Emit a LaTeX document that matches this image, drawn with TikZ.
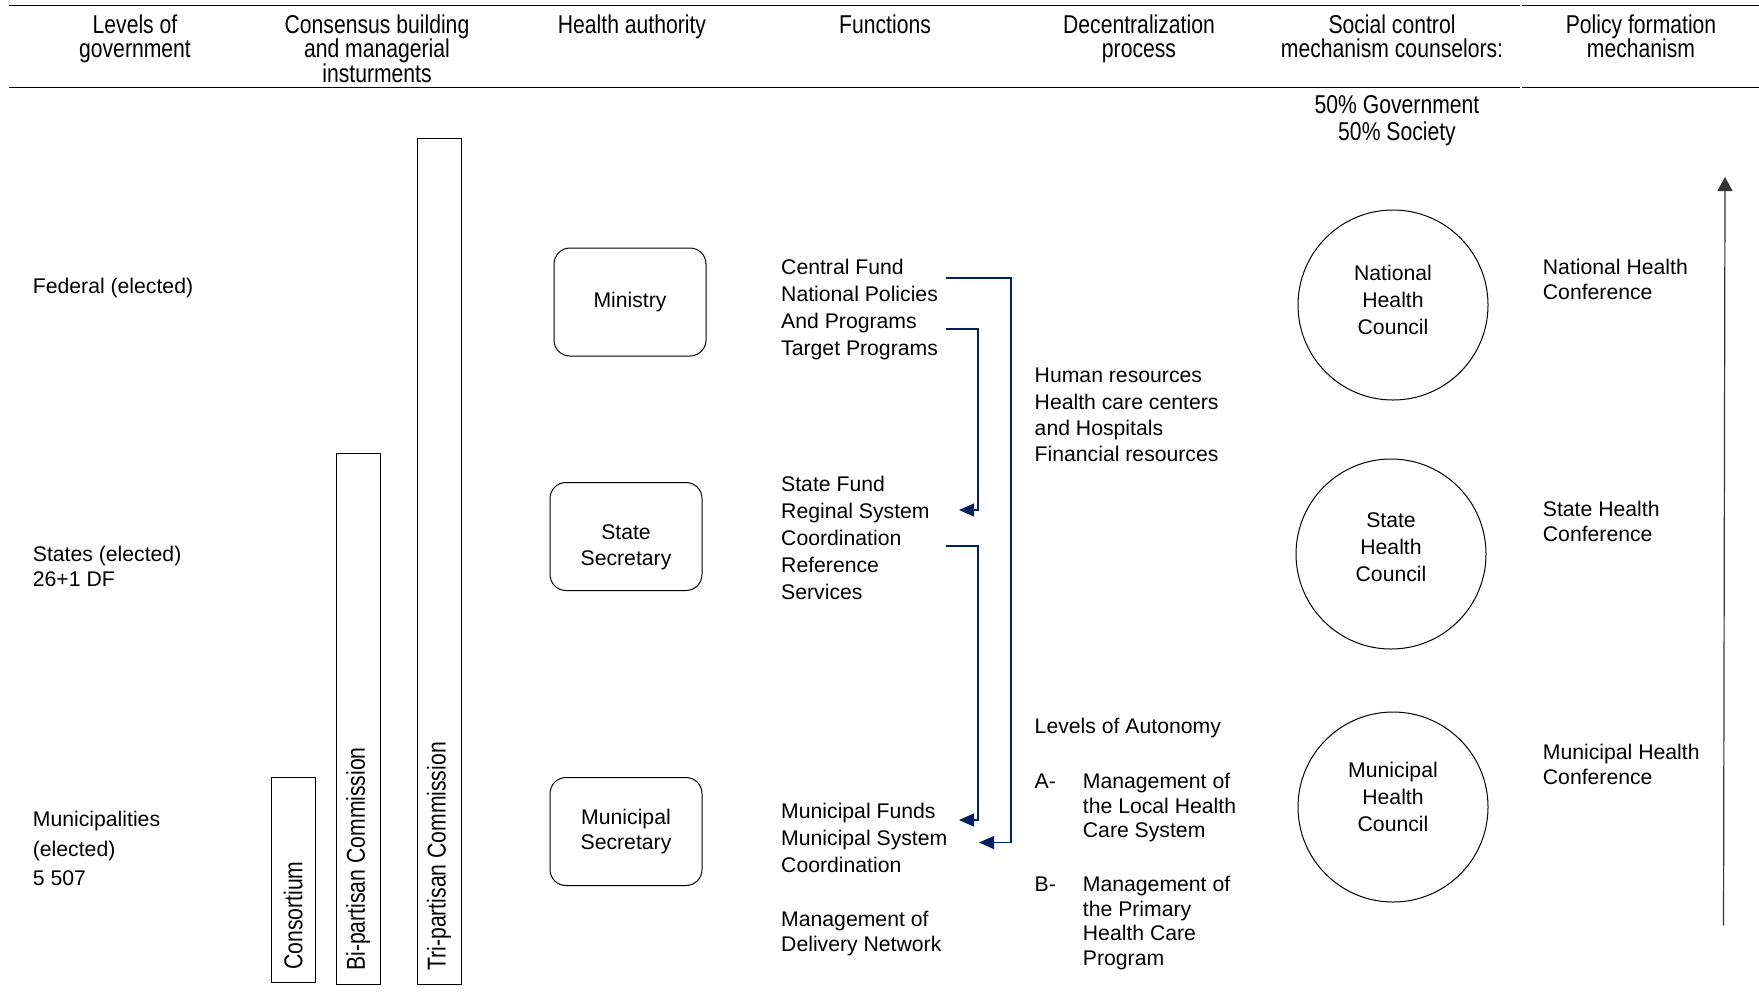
\documentclass[tikz,border=0pt]{standalone}
\usepackage{fontspec}
\setmainfont{Liberation Sans}
\newfontfamily\narrowfont[FakeStretch=0.82]{Liberation Sans}
\usepackage{tikz}
\usetikzlibrary{arrows.meta, positioning, shapes.geometric}
\definecolor{navy}{RGB}{0,32,96}

\begin{document}
\begin{tikzpicture}[x=0.5pt, y=-0.5pt,
    txt/.style={font=\fontsize{10.6}{#1}\selectfont, align=left, anchor=base west, inner sep=0pt},
    txt/.default=13.5pt,
    hdr/.style={font=\narrowfont\fontsize{12.9}{12.3}\selectfont, align=center, anchor=base, inner sep=0pt},
    authority/.style={draw, line width=0.5pt, rounded corners=8pt, minimum width=76pt, minimum height=54pt, align=center, font=\fontsize{10.6}{12.9}\selectfont},
    council/.style={draw, line width=0.5pt, circle, minimum size=95pt, align=center, inner sep=0pt, font=\fontsize{10.6}{13.5}\selectfont},
    bar/.style={draw, line width=0.5pt},
    barlbl/.style={rotate=90, anchor=west, inner sep=0pt, font=\narrowfont\fontsize{12.9}{12.9}\selectfont},
    conn/.style={navy, line width=0.6pt, -{Triangle[length=7.5pt, width=6.5pt]}},
  ]
    \useasboundingbox (0,0) rectangle (1759,993);

    % Header (base = last line)
    \draw[line width=0.7pt] (9,5.6) -- (1520,5.6) (1522,5.6) -- (1759,5.6);
    \draw[line width=0.7pt] (9,87.5) -- (1520,87.5) (1522,87.5) -- (1759,87.5);
    \node[hdr] (hlev) at (135,57.6) {Levels of\\government};
    \node[hdr] (hcons) at (377,82.2) {Consensus building\\and managerial\\insturments};
    \node[hdr] (hauth) at (632,33) {Health authority};
    \node[hdr] (hfunc) at (885,33) {Functions};
    \node[hdr] (hdec) at (1139,57.6) {Decentralization\\process};
    \node[hdr] (hsoc) at (1392,57.6) {Social control\\mechanism counselors:};
    \node[hdr] (hpol) at (1641,57.6) {Policy formation\\mechanism};
    \node[hdr, font=\narrowfont\fontsize{12.9}{13.5}\selectfont] (share) at (1397,140) {50\% Government\\50\% Society};

    % Levels of government
    \node[txt] (fed) at (32.5,293.6) {Federal (elected)};
    \node[txt=12.5pt] (sta) at (32.5,586.6) {States (elected)\\26+1 DF};
    \node[txt=14.7pt] (mun) at (32.5,885.4) {Municipalities\\(elected)\\5 507};

    % Consensus building instruments
    \draw[bar] (271.5,777) rectangle (315,982);
    \node[barlbl] (consort) at (293.2,970) {Consortium};
    \draw[bar] (336.5,453) rectangle (380,984);
    \node[barlbl] (bipart) at (358.2,971) {Bi-partisan Commission};
    \draw[bar] (417,138) rectangle (461,984);
    \node[barlbl] (tripart) at (439,971) {Tri-partisan Commission};

    % Health authority
    \node[authority] (ministry) at (630,302) {Ministry};
    \node[authority, text height=31pt] (stsec) at (626,536.5) {State\\Secretary};
    \node[authority] (musec) at (626,831.5) {Municipal\\Secretary};

    % Functions
    \node[txt] (ffed) at (780.8,355.6) {Central Fund\\National Policies\\And Programs\\Target Programs};
    \node[txt] (fsta) at (780.8,599) {State Fund\\Reginal System\\Coordination\\Reference\\Services};
    \node[txt] (fmun) at (780.8,872.6) {Municipal Funds\\Municipal System\\Coordination};
    \node[txt=12.3pt] (fnet) at (780.8,951.2) {Management of\\Delivery Network};

    % Transfers
    \coordinate (c1s) at (946,278);
    \coordinate (c1e) at (979,842.5);
    \coordinate (c2s) at (946,329);
    \coordinate (c2e) at (959,510);
    \coordinate (c3s) at (946,546);
    \coordinate (c3e) at (959,820);
    \draw[conn] (c1s) -- (1011,278) |- (c1e);
    \draw[conn] (c2s) -- (978,329) |- (c2e);
    \draw[conn] (c3s) -- (978,546) |- (c3e);

    % Decentralization process
    \node[txt=13.2pt] (res) at (1034.3,461.8) {Human resources\\Health care centers\\and Hospitals\\Financial resources};
    \node[txt] (auton) at (1034.3,733.6) {Levels of Autonomy};
    \node[txt] (auta) at (1034.3,788.6) {A-};
    \node[txt=12.25pt] (autatxt) at (1082.5,837.6) {Management of\\the Local Health\\Care System};
    \node[txt] (autb) at (1034.3,891.6) {B-};
    \node[txt=12.25pt] (autbtxt) at (1082.5,965.1) {Management of\\the Primary\\Health Care\\Program};

    % Social control councils
    \node[council, text depth=5pt] (natc) at (1393,305) {National\\Health\\Council};
    \node[council, text depth=6.8pt] (stac) at (1391,554) {State\\Health\\Council};
    \node[council, text depth=10pt] (munc) at (1393,807) {Municipal\\Health\\Council};

    % Policy formation
    \node[txt=12.3pt] (natconf) at (1542.5,299.2) {National Health\\Conference};
    \node[txt=12.3pt] (staconf) at (1542.5,541.2) {State Health\\Conference};
    \node[txt=12.3pt] (munconf) at (1542.5,784.2) {Municipal Health\\Conference};
    \coordinate (pbot) at (1723.5,925.5);
    \coordinate (ptop) at (1725,177);
    \draw[black!80, line width=0.6pt, -{Triangle[length=7pt, width=7.5pt]}] (pbot) -- (ptop);
\end{tikzpicture}
\end{document}
